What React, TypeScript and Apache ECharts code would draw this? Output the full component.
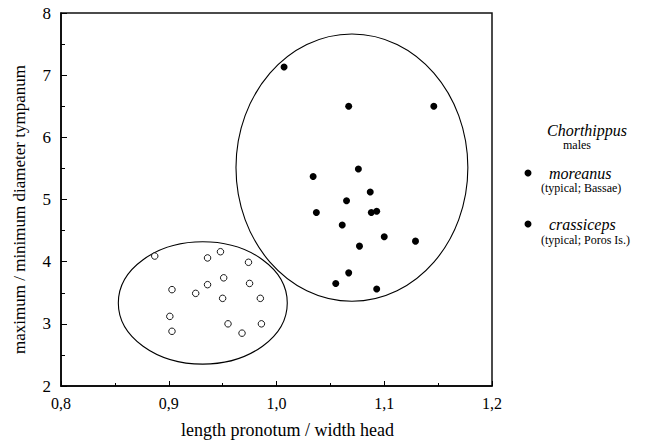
import React, { useEffect, useRef } from "react";
import * as echarts from "echarts";

// moreanus (filled) points: [length pronotum / width head, max/min diameter tympanum]
const moreanusX = [1.007, 1.067, 1.146, 1.076, 1.034, 1.087, 1.065, 1.037, 1.088, 1.093, 1.061, 1.100, 1.077, 1.129, 1.067, 1.055, 1.093];
const moreanusY = [7.13, 6.50, 6.50, 5.49, 5.37, 5.12, 4.98, 4.79, 4.79, 4.81, 4.59, 4.40, 4.25, 4.33, 3.82, 3.65, 3.56];
// crassiceps (open) points
const crassicepsX = [0.887, 0.936, 0.948, 0.974, 0.951, 0.975, 0.936, 0.903, 0.925, 0.950, 0.985, 0.901, 0.955, 0.986, 0.903, 0.968];
const crassicepsY = [4.09, 4.06, 4.16, 3.99, 3.74, 3.65, 3.63, 3.55, 3.49, 3.41, 3.41, 3.12, 3.00, 3.00, 2.88, 2.85];
// ellipses: [centerX, centerY, radiusX, radiusY]
const ellipses = [
  [0.9316, 3.336, 0.0784, 0.984],
  [1.0700, 5.513, 0.1076, 2.150],
];
const xTickLabels = ["0,8", "0,9", "1,0", "1,1", "1,2"];
const yTickLabels = ["2", "3", "4", "5", "6", "7", "8"];

const FONT = "Liberation Serif";

export default function App() {
  const ref = useRef<HTMLDivElement>(null);
  useEffect(() => {
    if (!ref.current) return;
    const chart = echarts.init(ref.current, null, { renderer: "svg" });
    const pair = (xs: number[], ys: number[]) => xs.map((x, i) => [x, ys[i]]);
    chart.setOption({
      animation: false,
      backgroundColor: "#fff",
      textStyle: { fontFamily: FONT, color: "#000" },
      grid: {
        left: 61, right: 162, top: 13, bottom: 57,
        show: true, borderColor: "#111", borderWidth: 1.5,
      },
      xAxis: {
        type: "value", min: 0.8, max: 1.2, interval: 0.1,
        name: "length pronotum / width head",
        nameLocation: "middle", nameGap: 35,
        nameTextStyle: { fontFamily: FONT, fontSize: 18, color: "#000", padding: [0, 0, 0, 22] },
        axisLine: { show: true, lineStyle: { color: "#000", width: 1.5 } },
        axisTick: { show: true, inside: true, length: 5, lineStyle: { color: "#000" } },
        minorTick: { show: true, splitNumber: 2, length: 3, lineStyle: { color: "#000" } },
        splitLine: { show: false },
        axisLabel: {
          fontFamily: FONT, fontSize: 16, color: "#000", margin: 9,
          formatter: (v: number) => xTickLabels[Math.round((v - 0.8) / 0.1)] ?? "",
        },
      },
      yAxis: {
        type: "value", min: 2, max: 8, interval: 1,
        name: "maximum / minimum diameter tympanum",
        nameLocation: "middle", nameGap: 33,
        nameTextStyle: { fontFamily: FONT, fontSize: 17, color: "#000", padding: [0, 20, 0, 0] },
        axisLine: { show: true, lineStyle: { color: "#000", width: 1.5 } },
        axisTick: { show: true, inside: true, length: 6, lineStyle: { color: "#000" } },
        minorTick: { show: true, splitNumber: 2, length: 4, lineStyle: { color: "#000" } },
        splitLine: { show: false },
        axisLabel: {
          fontFamily: FONT, fontSize: 17, color: "#000", margin: 10,
          formatter: (v: number) => yTickLabels[Math.round(v - 2)] ?? "",
        },
      },
      series: [
        {
          type: "custom",
          name: "groups",
          clip: false,
          z: 1,
          silent: true,
          data: ellipses,
          renderItem: (params: any, api: any) => {
            const c = api.coord([api.value(0), api.value(1)]);
            const s = api.size([api.value(2), api.value(3)]);
            return {
              type: "ellipse",
              shape: { cx: c[0], cy: c[1], rx: s[0], ry: s[1] },
              style: { fill: "none", stroke: "#000", lineWidth: 1.1 },
            };
          },
        },
        {
          type: "scatter",
          name: "moreanus",
          z: 3,
          symbol: "circle",
          symbolSize: 7,
          itemStyle: { color: "#000", opacity: 1 },
          data: pair(moreanusX, moreanusY),
        },
        {
          type: "scatter",
          name: "crassiceps",
          z: 3,
          symbol: "circle",
          symbolSize: 6.5,
          itemStyle: { color: "#fff", borderColor: "#000", borderWidth: 0.9, opacity: 1 },
          data: pair(crassicepsX, crassicepsY),
        },
      ],
      graphic: [
        { type: "text", left: 547, top: 122, style: { text: "Chorthippus", fontFamily: FONT, fontStyle: "italic", fontSize: 16, fill: "#000" } },
        { type: "text", left: 563, top: 139, style: { text: "males", fontFamily: FONT, fontSize: 12, fill: "#000" } },
        { type: "circle", shape: { cx: 528, cy: 173, r: 3.5 }, style: { fill: "#000" } },
        { type: "text", left: 549, top: 165, style: { text: "moreanus", fontFamily: FONT, fontStyle: "italic", fontSize: 16, fill: "#000" } },
        { type: "text", left: 541, top: 182, style: { text: "(typical; Bassae)", fontFamily: FONT, fontSize: 12, fill: "#000" } },
        { type: "circle", shape: { cx: 528, cy: 224, r: 3.5 }, style: { fill: "#000" } },
        { type: "text", left: 549, top: 216, style: { text: "crassiceps", fontFamily: FONT, fontStyle: "italic", fontSize: 16, fill: "#000" } },
        { type: "text", left: 541, top: 234, style: { text: "(typical; Poros Is.)", fontFamily: FONT, fontSize: 12, fill: "#000" } },
      ],
    });
    return () => chart.dispose();
  }, []);
  return <div ref={ref} style={{ width: 654, height: 444, position: "absolute", left: 0, top: 0 }} />;
}
